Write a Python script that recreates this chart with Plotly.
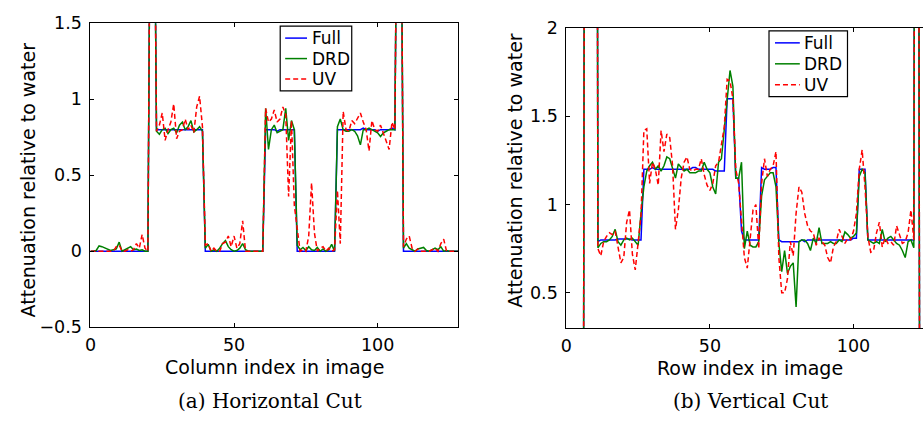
import plotly.graph_objects as go

# ---- Horizontal cut (column index 0..128) ----
col_index = list(range(129))

full_h = ([0.0] * 21 + [3.0, 3.0]
          + [0.8] * 17
          + [0.0] * 21
          + [0.8, 0.8, 0.8, 0.8, 0.79, 0.8, 0.8, 0.8, 0.8, 0.8, 0.8]
          + [0.0] * 14
          + [0.8, 0.8, 0.8, 0.8, 0.8, 0.8, 0.8, 0.8, 0.8, 0.81, 0.8, 0.8, 0.8, 0.8,
             0.79, 0.8, 0.8, 0.8, 0.8, 0.81, 0.8]
          + [3.0, 3.0]
          + [0.0] * 20)

drd_h = ([0, 0, 0.005, 0.035, 0.03, 0.02, 0.01, 0.005, 0.01, 0.015, 0.06, 0.0, 0.01,
          0.02, 0.03, 0.01, 0.015, 0.005, 0.01, 0.0, 0.0]
         + [3.0, 3.0]
         + [0.79, 0.77, 0.8, 0.81, 0.775, 0.8, 0.81, 0.78, 0.83, 0.85, 0.8, 0.82, 0.86,
            0.785, 0.8, 0.82, 0.79]
         + [0.02, 0.045, 0.0, 0.01, 0.0, 0.02, 0.05, 0.07, 0.03, 0.01, 0.0, 0.005, 0.02,
            0.05, 0.01, 0.0, 0.0, 0.0, 0.0, 0.0, 0.0]
         + [0.94, 0.67, 0.8, 0.83, 0.78, 0.79, 0.8, 0.94, 0.73, 0.86, 0.8]
         + [0.04, 0.01, 0.025, 0.005, 0.03, 0.01, 0.005, 0.025, 0.0, 0.015, 0.0, 0.01,
            0.045, 0.0]
         + [0.82, 0.87, 0.8, 0.79, 0.79, 0.8, 0.79, 0.76, 0.70, 0.8, 0.8, 0.81, 0.8,
            0.79, 0.78, 0.755, 0.78, 0.79, 0.8, 0.8, 0.8]
         + [3.0, 3.0]
         + [0.02, 0.05, 0.02, 0.01, 0.0, 0.015, 0.02, 0.025, 0.005, 0.0, 0.01, 0.02,
            0.01, 0.03, 0.0, 0.005, 0.0, 0.0, 0.0, 0.0])

uv_h = ([0, 0, 0, 0, 0, 0, 0, 0, 0, 0.03, 0.04, 0.0, 0.0, 0.01, 0.0, 0.01, 0.05, 0.02,
         0.11, 0.02, 0.0]
        + [3.0, 3.0]
        + [0.79, 0.83, 0.91, 0.73, 0.8, 0.85, 0.97, 0.74, 0.79, 0.8, 0.87, 0.8, 0.83,
           0.78, 0.95, 1.02, 0.82]
        + [0.04, 0.05, 0.0, 0.02, 0.0, 0.0, 0.05, 0.06, 0.1, 0.03, 0.1, 0.02, 0.05, 0.2,
           0.0, 0.0, 0.0, 0.0, 0.0, 0.0, 0.0]
        + [0.94, 0.85, 0.87, 0.93, 0.85, 0.87, 0.95, 0.9, 0.36, 0.86, 0.3]
        + [0.15, 0.0, 0.01, 0.0, 0.1, 0.45, 0.12, 0.0, 0.02, 0.03, 0.0, 0.02, 0.0, 0.01]
        + [0.4, 0.05, 0.92, 0.8, 0.79, 0.86, 0.84, 0.88, 0.91, 0.85, 0.8, 0.66, 0.86,
           0.8, 0.79, 0.83, 0.78, 0.72, 0.67, 0.85, 0.8]
        + [3.0, 3.0]
        + [0.03, 0.08, 0.1, 0.02, 0.0, 0.015, 0.0, 0.0, 0.0, 0.0, 0.01, 0.02, 0.0, 0.05,
           0.08, 0.0, 0.0, 0.0, 0.0, 0.0])

# ---- Vertical cut (row index 0..128) ----
row_index = list(range(129))

full_v = ([0.0] * 7 + [10.0] * 4
          + [0.79, 0.8, 0.8, 0.8, 0.8, 0.8, 0.8, 0.805, 0.805, 0.805, 0.805, 0.805, 0.8,
             0.8, 0.8, 0.8]
          + [1.2, 1.2, 1.2, 1.21, 1.2, 1.2, 1.2, 1.2, 1.2, 1.2, 1.2, 1.2, 1.2, 1.2, 1.2,
             1.2, 1.2, 1.21, 1.21, 1.2, 1.2, 1.2, 1.2, 1.2, 1.2, 1.19, 1.19, 1.19, 1.19]
          + [1.6, 1.6, 1.6]
          + [1.15, 1.15, 0.85]
          + [0.8] * 6
          + [1.21, 1.2, 1.2, 1.2, 1.21, 1.21]
          + [0.8, 0.79, 0.79, 0.79, 0.79, 0.79, 0.79, 0.79, 0.8, 0.79, 0.8, 0.8, 0.8, 0.8,
             0.8, 0.8, 0.8, 0.8, 0.8, 0.8, 0.8, 0.8, 0.8, 0.8, 0.8, 0.8, 0.81, 0.81]
          + [1.2, 1.2, 1.2]
          + [0.8] * 17
          + [10.0]
          + [0.0] * 6)

drd_v = ([0.0] * 7 + [10.0] * 4
         + [0.755, 0.78, 0.79, 0.79, 0.8, 0.82, 0.86, 0.79, 0.77, 0.8, 0.81, 0.8, 0.81,
            0.79, 0.77, 0.95]
         + [1.1, 1.19, 1.22, 1.24, 1.2, 1.22, 1.19, 1.22, 1.27, 1.26, 1.2, 1.15, 1.23,
            1.21, 1.19, 1.2, 1.18, 1.18, 1.18, 1.19, 1.19, 1.24, 1.2, 1.18, 1.1, 1.06,
            1.24, 1.26, 1.42]
         + [1.6, 1.76, 1.67]
         + [1.15, 1.15, 1.24]
         + [0.75, 0.85, 0.77, 0.76, 0.76, 0.79]
         + [1.05, 1.14, 1.16, 1.18, 1.18, 1.1]
         + [0.78, 0.62, 0.74, 0.61, 0.65, 0.67, 0.42, 0.79, 0.8, 0.8, 0.78, 0.74, 0.81,
            0.78, 0.87, 0.78, 0.78, 0.78, 0.79, 0.78, 0.78, 0.8, 0.79, 0.845, 0.83, 0.81,
            0.82, 0.84]
         + [1.16, 1.2, 1.18]
         + [0.8, 0.79, 0.78, 0.79, 0.78, 0.86, 0.79, 0.81, 0.82, 0.8, 0.78, 0.77, 0.74,
            0.70, 0.79, 0.8, 0.755]
         + [10.0]
         + [0.0] * 6)

uv_v = ([0.0] * 7 + [10.0] * 4
        + [0.75, 0.71, 0.79, 0.82, 0.84, 0.83, 0.85, 0.77, 0.67, 0.7, 0.9, 0.97, 0.72,
           0.63, 0.78, 0.94]
        + [1.42, 1.43, 1.12, 1.24, 1.2, 1.11, 1.42, 1.3, 1.4, 1.38, 1.22, 0.86, 0.97,
           1.15, 1.24, 1.27, 1.2, 1.19, 1.2, 1.2, 1.26, 1.17, 1.11, 1.08, 1.12, 1.22,
           1.24, 1.35, 1.44]
        + [1.71, 1.7, 1.6]
        + [1.2, 1.12, 0.9]
        + [0.7, 0.64, 0.8, 0.97, 1.0, 0.75]
        + [1.12, 1.26, 1.16, 1.2, 1.22, 1.3]
        + [0.7, 0.5, 0.5, 0.58, 0.79, 0.71, 0.95, 1.1, 1.07, 0.95, 0.88, 0.85, 0.84,
           0.77, 0.81, 0.79, 0.77, 0.7, 0.67, 0.76, 0.79, 0.86, 0.82, 0.78, 0.81, 0.8,
           0.85, 0.95]
        + [1.2, 1.31, 1.1]
        + [0.82, 0.73, 0.74, 0.84, 0.9, 0.76, 0.81, 0.78, 0.79, 0.77, 0.88, 0.83, 0.78,
           0.79, 0.84, 0.97, 0.8]
        + [10.0]
        + [0.0] * 6)

series_names = ["Full", "DRD", "UV"]
series_colors = ["#0000FF", "#008000", "#FF0000"]
series_dash = ["solid", "solid", "5px,3px"]

x_ticks = [0, 50, 100]
y_ticks_h = [-0.5, 0, 0.5, 1, 1.5]
y_ticks_v = [0.5, 1, 1.5, 2]

W, H = 923, 422


def px(x):
    return x / W


def py(y):
    return 1 - y / H


SANS = "DejaVu Sans"
SERIF = "DejaVu Serif"
LW = 1.5

fig = go.Figure()

for name, ys, color, dash in zip(series_names, [full_h, drd_h, uv_h], series_colors, series_dash):
    fig.add_trace(go.Scatter(x=col_index, y=ys, mode="lines", name=name,
                             line=dict(color=color, width=LW, dash=dash),
                             xaxis="x", yaxis="y", showlegend=False))

for name, ys, color, dash in zip(series_names, [full_v, drd_v, uv_v], series_colors, series_dash):
    fig.add_trace(go.Scatter(x=row_index, y=ys, mode="lines", name=name,
                             line=dict(color=color, width=LW, dash=dash),
                             xaxis="x2", yaxis="y2", showlegend=False))

axis_common = dict(showline=True, linecolor="black", linewidth=1, ticks="inside",
                   ticklen=4, tickcolor="black", showgrid=False, zeroline=False,
                   tickfont=dict(family=SANS, size=17.5, color="black"))

fig.update_layout(
    width=W, height=H, autosize=False,
    margin=dict(l=0, r=0, t=0, b=0, pad=0),
    paper_bgcolor="white", plot_bgcolor="white",
    xaxis=dict(domain=[px(85), px(455)], range=[0, 128], tickvals=x_ticks,
               mirror="ticks", anchor="y", ticklabelstandoff=2, **axis_common),
    yaxis=dict(domain=[py(333), py(14)], range=[-0.5, 1.5], tickvals=y_ticks_h,
               mirror="ticks", anchor="x", ticklabelstandoff=4, **axis_common),
    xaxis2=dict(domain=[px(564), 1.0], range=[0, 359 / (370 / 128)], tickvals=x_ticks,
                mirror="ticks", anchor="y2", ticklabelstandoff=2, **axis_common),
    yaxis2=dict(domain=[py(334), py(19)], range=[0.3, 2], tickvals=y_ticks_v,
                mirror=False, anchor="x2", ticklabelstandoff=4, **axis_common),
)

annotations = [
    dict(text="Column index in image", x=px(270), y=py(375)),
    dict(text="Row index in image", x=px(749), y=py(376)),
    dict(text="Attenuation relative to water", x=px(22), y=py(178), textangle=-90),
    dict(text="Attenuation relative to water", x=px(512), y=py(168), textangle=-90),
]
for a in annotations:
    a.update(xref="paper", yref="paper", showarrow=False, xanchor="center",
             yanchor="middle", font=dict(family=SANS, size=19, color="black"))

captions = [
    dict(text="(a) Horizontal Cut", x=px(266), y=py(410)),
    dict(text="(b) Vertical Cut", x=px(749), y=py(410)),
]
for c in captions:
    c.update(xref="paper", yref="paper", showarrow=False, xanchor="center",
             yanchor="middle", font=dict(family=SERIF, size=20, color="black"))
annotations += captions

# Boxed legends, one per panel
shapes = []
legend_boxes = [
    dict(box=(276, 17, 348, 85), rows=(29.5, 51, 72.5), line_x=(281, 303), text_x=306),
    dict(box=(768, 22, 847, 91), rows=(34.5, 56.5, 78.5), line_x=(774, 799), text_x=801),
]
for lg in legend_boxes:
    x0, y0, x1, y1 = lg["box"]
    shapes.append(dict(type="rect", xref="paper", yref="paper",
                       x0=px(x0), x1=px(x1), y0=py(y1), y1=py(y0),
                       line=dict(color="black", width=1.2), fillcolor="white", layer="above"))
    for name, color, dash, ry in zip(series_names, series_colors, series_dash, lg["rows"]):
        shapes.append(dict(type="line", xref="paper", yref="paper",
                           x0=px(lg["line_x"][0]), x1=px(lg["line_x"][1]),
                           y0=py(ry), y1=py(ry),
                           line=dict(color=color, width=LW, dash=dash), layer="above"))
        annotations.append(dict(text=name, xref="paper", yref="paper", showarrow=False,
                                x=px(lg["text_x"]), y=py(ry), xanchor="left",
                                yanchor="middle",
                                font=dict(family=SANS, size=17, color="black")))

fig.update_layout(annotations=annotations, shapes=shapes)

fig.write_html("out.html")
